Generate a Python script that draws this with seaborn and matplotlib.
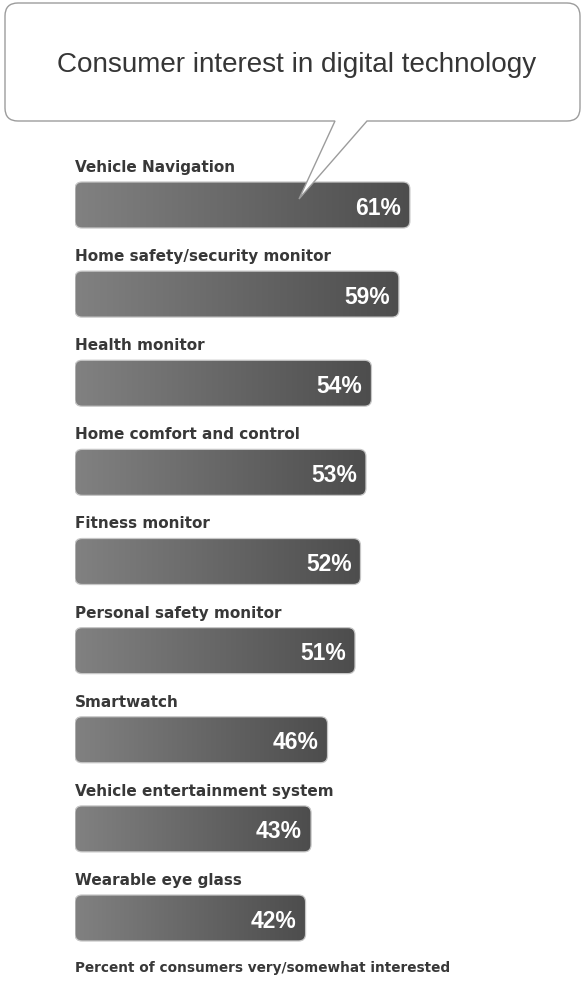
import numpy as np
import matplotlib
matplotlib.use("Agg")
import matplotlib.pyplot as plt
import seaborn as sns
from matplotlib.patches import FancyBboxPatch, PathPatch
from matplotlib.path import Path
from matplotlib.colors import LinearSegmentedColormap

# ---- data -------------------------------------------------------------
categories = [
    "Vehicle Navigation",
    "Home safety/security monitor",
    "Health monitor",
    "Home comfort and control",
    "Fitness monitor",
    "Personal safety monitor",
    "Smartwatch",
    "Vehicle entertainment system",
    "Wearable eye glass",
]
interest_pct = [61, 59, 54, 53, 52, 51, 46, 43, 42]
title = "Consumer interest in digital technology"
footnote = "Percent of consumers very/somewhat interested"

# ---- layout (pixels) --------------------------------------------------
W, H = 581, 986
left_px = 75            # where 0 % sits
px_per_pct = 5.49       # horizontal scale
row_px = 89.125         # distance between bar centres
first_center_px = 205   # centre of the first bar from the top
bar_px = 46             # bar thickness

sns.set_theme(style="white")
plt.rcParams["font.family"] = ["DejaVu Sans"]
sans = ["Liberation Sans", "DejaVu Sans"]
text_dark = "#383838"

fig = plt.figure(figsize=(W / 100, H / 100), dpi=100)
fig.patch.set_facecolor("white")

ax_w_px = W - left_px
ax = fig.add_axes([left_px / W, 0, ax_w_px / W, 1])
sns.barplot(x=interest_pct, y=categories, orient="h", width=bar_px / row_px,
            color="#666666", ax=ax)

# replace the flat bars by rounded, shaded ones
cmap = LinearSegmentedColormap.from_list("bar_shade", ["#818181", "#4d4d4d"])
grad = np.linspace(0, 1, 256).reshape(1, -1)
aspect = px_per_pct / row_px
radius = 7 / px_per_pct
for bar, label, val in zip(list(ax.patches), categories, interest_pct):
    x0, y0 = bar.get_x(), bar.get_y()
    w, h = bar.get_width(), bar.get_height()
    bar.set_visible(False)
    shape = FancyBboxPatch((x0, y0), w, h,
                           boxstyle=f"round,pad=0,rounding_size={radius}",
                           mutation_aspect=aspect, facecolor="none",
                           edgecolor="#c6c6c6", lw=0.9, zorder=3)
    ax.add_patch(shape)
    img = ax.imshow(grad, cmap=cmap, extent=(x0, x0 + w, y0 + h, y0),
                    aspect="auto", interpolation="bilinear", zorder=2)
    img.set_clip_path(shape)
    yc = y0 + h / 2
    ax.text(x0 + w - 9 / px_per_pct, yc + 9.5 / row_px, f"{val}%",
            ha="right", va="baseline", color="white", fontsize=16.5,
            fontweight="bold", family=sans, zorder=4)
    ax.text(0, yc - 33 / row_px, label, ha="left", va="baseline",
            color=text_dark, fontsize=11.0, fontweight="bold")

ax.set_xlim(0, ax_w_px / px_per_pct)
ax.set_ylim((H - first_center_px) / row_px, -first_center_px / row_px)
ax.axis("off")

# ---- speech bubble with the title -------------------------------------
ov = fig.add_axes([0, 0, 1, 1], zorder=5)
ov.set_xlim(0, W)
ov.set_ylim(H, 0)
ov.axis("off")
ov.patch.set_alpha(0)

L, R, T, B, r = 5, 580, 3, 121, 13
tail_l, tail_r, tip = 335, 367, (299, 199)
verts = [
    (L + r, T), (R - r, T), (R, T), (R, T + r),
    (R, B - r), (R, B), (R - r, B),
    (tail_r, B), tip, (tail_l, B),
    (L + r, B), (L, B), (L, B - r),
    (L, T + r), (L, T), (L + r, T), (L + r, T),
]
codes = [
    Path.MOVETO, Path.LINETO, Path.CURVE3, Path.CURVE3,
    Path.LINETO, Path.CURVE3, Path.CURVE3,
    Path.LINETO, Path.LINETO, Path.LINETO,
    Path.LINETO, Path.CURVE3, Path.CURVE3,
    Path.LINETO, Path.CURVE3, Path.CURVE3, Path.CLOSEPOLY,
]
ov.add_patch(PathPatch(Path(verts, codes), facecolor="white",
                       edgecolor="#9c9c9c", lw=1.0))
ov.text(296.5, 72, title, ha="center", va="baseline", fontsize=20.1,
        color="#363636", family=sans)

ov.text(left_px, 972, footnote, ha="left", va="baseline", fontsize=9.8,
        fontweight="bold", color=text_dark)

fig.savefig("out.png", dpi=100, facecolor="white")
